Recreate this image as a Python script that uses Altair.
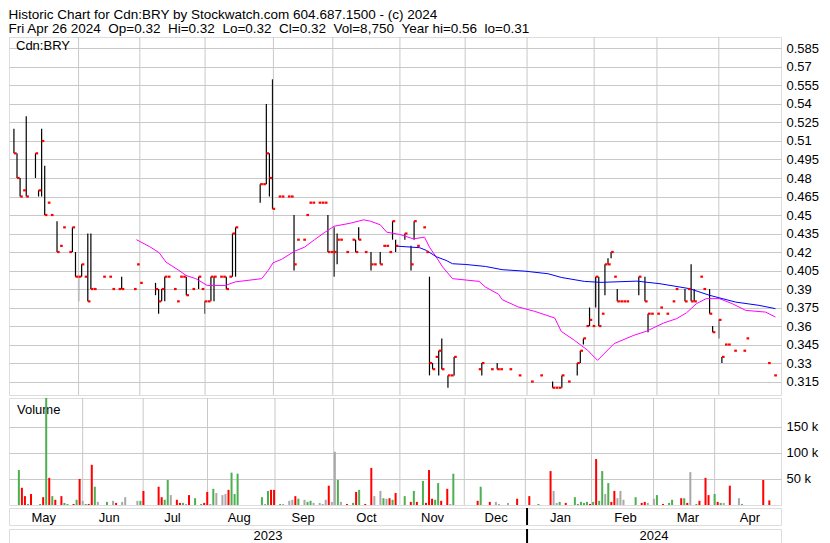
import altair as alt
import numpy as np
import pandas as pd

FONT = "Liberation Sans"
SP = "\u00a0\u00a0"
TITLE_LINES = [
    "Historic Chart for Cdn:BRY by Stockwatch.com 604.687.1500 - (c) 2024",
    "Fri Apr 26 2024" + SP + "Op=0.32" + SP + "Hi=0.32" + SP + "Lo=0.32" + SP + "Cl=0.32"
    + SP + "Vol=8,750" + SP + "Year hi=0.56" + SP + "lo=0.31",
]
SYMBOL = "Cdn:BRY"

# trading-day slot (0 = first session of May 2023) of each session with trades
T = [1, 2, 3, 4, 5, 8, 9, 10, 11, 12, 13, 15, 16, 17, 19, 20, 21, 22, 23, 24,
     25, 26, 27, 30, 32, 33, 35, 36, 40, 41, 42, 47, 48, 49, 50, 51, 53, 54, 55, 56,
     57, 59, 61, 62, 63, 64, 65, 66, 68, 69, 70, 71, 72, 73, 81, 82, 83, 84, 85, 87,
     88, 90, 91, 92, 93, 95, 96, 97, 98, 100, 101, 102, 103, 104, 105, 106, 107, 109, 111, 112,
     113, 115, 117, 118, 120, 121, 122, 123, 124, 125, 128, 130, 131, 132, 134, 135, 136, 137, 138, 139,
     140, 142, 143, 144, 152, 153, 156, 158, 159, 162, 165, 169, 172, 176, 177, 178, 179, 181, 184, 185,
     186, 187, 188, 189, 190, 191, 192, 193, 194, 195, 196, 197, 198, 199, 200, 204, 206, 207, 208, 210,
     211, 213, 215, 216, 219, 220, 221, 222, 224, 225, 227, 228, 230, 231, 232, 233, 235, 238, 239, 246,
     248]
HIGH = [.52, .50, .48, .47, .53, .50, .47, .52, .49, .46, .45, .445, .425, .44, .42, .44, .42, .40, .41, .40,
        .435, .435, .39, .40, .40, .39, .39, .40, .39, .41, .395, .395, .39, .39, .40, .40, .39, .38, .40, .40,
        .40, .39, .40, .39, .38, .38, .40, .40, .40, .40, .40, .40, .435, .44, .475, .475, .54, .50, .56, .465,
        .465, .465, .465, .45, .43, .43, .45, .46, .46, .46, .46, .46, .45, .42, .44, .435, .43, .42, .43, .43,
        .44, .42, .42, .41, .42, .425, .425, .42, .445, .43, .435, .425, .445, .425, .44, .42, .40, .33, .335, .34,
        .35, .32, .32, .335, .325, .33, .325, .33, .325, .325, .32, .315, .32, .315, .31, .31, .32, .315, .33, .34,
        .35, .36, .375, .36, .40, .40, .37, .41, .415, .42, .40, .39, .38, .38, .38, .40, .40, .37, .37, .37,
        .375, .37, .38, .39, .39, .39, .41, .39, .40, .39, .39, .36, .365, .335, .345, .345, .34, .34, .35, .33,
        .32]
LOW = [.50, .48, .465, .47, .465, .48, .465, .465, .45, .46, .45, .42, .425, .44, .42, .42, .40, .38, .40, .40,
       .38, .39, .39, .40, .40, .39, .39, .39, .39, .41, .395, .385, .37, .38, .38, .40, .39, .38, .40, .40,
       .385, .39, .39, .39, .37, .38, .38, .38, .40, .40, .39, .40, .40, .40, .46, .475, .475, .465, .455, .465,
       .465, .465, .465, .405, .43, .43, .45, .46, .46, .46, .46, .46, .42, .42, .40, .41, .43, .42, .43, .42,
       .43, .42, .405, .41, .41, .425, .425, .42, .43, .42, .43, .405, .43, .425, .44, .42, .32, .325, .335, .32,
       .325, .31, .32, .32, .325, .32, .325, .325, .325, .325, .32, .315, .32, .31, .31, .31, .31, .315, .32, .33,
       .345, .36, .36, .36, .375, .36, .37, .385, .41, .415, .40, .38, .38, .38, .38, .385, .38, .355, .37, .37,
       .375, .37, .38, .39, .38, .39, .38, .38, .40, .39, .37, .355, .35, .33, .345, .345, .34, .34, .35, .33,
       .32]
CLOSE = [.50, .48, .465, .47, .465, .50, .47, .51, .45, .46, .45, .42, .425, .44, .42, .44, .40, .40, .41, .40,
         .38, .39, .39, .40, .40, .39, .39, .39, .39, .41, .395, .39, .38, .39, .40, .40, .39, .38, .40, .40,
         .385, .39, .40, .39, .38, .38, .40, .40, .40, .40, .39, .40, .435, .44, .475, .475, .50, .48, .455, .465,
         .465, .465, .465, .41, .43, .43, .45, .46, .46, .46, .46, .46, .42, .42, .42, .43, .43, .42, .43, .42,
         .43, .42, .41, .41, .41, .425, .425, .42, .445, .425, .435, .41, .445, .425, .44, .42, .33, .325, .335, .34,
         .325, .32, .32, .335, .325, .33, .325, .325, .325, .325, .32, .315, .32, .31, .31, .31, .32, .315, .33, .34,
         .35, .36, .365, .36, .40, .36, .37, .41, .41, .42, .40, .38, .38, .38, .38, .40, .38, .37, .37, .37,
         .375, .37, .38, .39, .38, .39, .38, .38, .40, .39, .37, .355, .365, .335, .345, .345, .34, .34, .35, .33,
         .32]
VOLUME_K = [67, 33, 17, 2, 21, 2, 15, 250, 52, 17, 10, 17, 4, 2, 2, 10, 50, 8, 2, 2,
            77, 35, 6, 6, 8, 4, 6, 15, 8, 8, 27, 35, 15, 10, 48, 19, 10, 4, 4, 2,
            19, 13, 2, 4, 25, 2, 31, 23, 19, 21, 29, 62, 21, 60, 15, 2, 27, 29, 29, 2,
            2, 8, 10, 17, 12, 10, 6, 8, 4, 4, 2, 10, 37, 6, 102, 48, 6, 2, 4, 25,
            29, 2, 71, 17, 27, 13, 12, 13, 10, 23, 17, 6, 27, 6, 46, 4, 67, 12, 10, 42,
            8, 31, 2, 60, 8, 35, 6, 6, 2, 4, 12, 17, 2, 65, 27, 4, 6, 4, 15, 2,
            6, 4, 6, 2, 6, 88, 8, 65, 21, 42, 6, 27, 13, 27, 10, 15, 4, 6, 4, 12,
            19, 2, 4, 10, 13, 13, 4, 63, 2, 8, 52, 19, 21, 6, 4, 4, 37, 13, 2, 48,
            8.75]
PREV_CLOSE = 0.49

# moving averages (slot, price)
PINK_T = [40.8, 45, 48.2, 50.4, 54.6, 56.9, 60.1, 63.8, 69.7, 72.9, 81.5, 83.6, 85.2, 87.9, 92.2,
          95.4, 98.6, 101.8, 105, 110.4, 114.6, 116.8, 120, 122.1, 126.4, 130.7, 134.4, 136, 138.2,
          140.3, 143.5, 152.1, 154.2, 158.5, 159.6, 164.9, 170.2, 176.7, 178.8, 183.1, 187.4, 190.6,
          196, 202.4, 206.6, 212, 216.3, 219.5, 222.7, 225.9, 230.2, 234.4, 238.7, 245.2, 248.4]
PINK_P = [.430, .4245, .4194, .4118, .4051, .4010, .3984, .3929, .3929, .3958, .3984, .4051, .4113, .4140,
          .4207, .4239, .4299, .4356, .4409, .4434, .4461, .4450, .4421, .4361, .4342, .4307, .4320, .4239,
          .4159, .4078, .3984, .3962, .3916, .3857, .3814, .3754, .3719, .3665, .3557, .3484, .3403, .3322,
          .3458, .3525, .3559, .3624, .3660, .3707, .3781, .3822, .3822, .3781, .3727, .3713, .3673]
BLUE_T = [125.3, 132.8, 135, 138.2, 141.4, 143.5, 147.8, 154.2, 159.6, 167, 174.5, 178.8, 186.3,
          191.7, 203.4, 210.9, 220.5, 227, 235.5, 243, 248.4]
BLUE_P = [.4248, .4235, .4213, .4162, .4132, .4105, .4099, .4083, .4057, .4045, .4024, .3994, .3962,
          .3954, .3964, .3943, .3903, .3849, .3794, .3768, .3741]

MONTHS = ["May", "Jun", "Jul", "Aug", "Sep", "Oct", "Nov", "Dec", "Jan", "Feb", "Mar", "Apr"]
MONTH_START_T = [-0.6, 22.0, 41.9, 63.1, 85.3, 104.6, 126.4, 147.6, 167.7, 189.5, 209.9, 230.0]
YEARS = ["2023", "2024"]
YEAR_START_T = [-0.6, 167.7]
END_T = 250.2

PRICE_TICKS = [0.315, 0.33, 0.345, 0.36, 0.375, 0.39, 0.405, 0.42, 0.435, 0.45, 0.465, 0.48,
               0.495, 0.51, 0.525, 0.54, 0.555, 0.57, 0.585]
PRICE_DOMAIN = [0.3041, 0.5943]
VOLUME_TICKS = [50000, 100000, 150000]
VOLUME_DOMAIN = [0, 205000]

GREEN, RED, GRAY = "#4caf50", "#ff0000", "#a8a8a8"
GRID = "#c8c8c8"

W, H1, H2, H3, H4 = 772, 358, 107, 17, 14

bars = pd.DataFrame({"t": T, "high": HIGH, "low": LOW, "close": CLOSE,
                     "vol": [v * 1000 for v in VOLUME_K]})
prev = bars["close"].shift(1).fillna(PREV_CLOSE)
bars["dir"] = np.where(bars["close"] > prev + 1e-9, "up",
                       np.where(bars["close"] < prev - 1e-9, "down", "flat"))

pink = pd.DataFrame({"t": PINK_T, "p": PINK_P})
blue = pd.DataFrame({"t": BLUE_T, "p": BLUE_P})
grid_df = pd.DataFrame({"t": MONTH_START_T[1:]})
ends = MONTH_START_T[1:] + [END_T]
months = pd.DataFrame({"name": MONTHS,
                       "mid": [(a + b) / 2 for a, b in zip(MONTH_START_T, ends)]})
yends = YEAR_START_T[1:] + [END_T]
years = pd.DataFrame({"name": YEARS,
                      "mid": [(a + b) / 2 for a, b in zip(YEAR_START_T, yends)]})
sep_df = pd.DataFrame({"t": YEAR_START_T[1:]})

xs = alt.Scale(domain=[MONTH_START_T[0], END_T], nice=False, zero=False)
X = alt.X("t:Q", scale=xs, axis=None)
ys = alt.Scale(domain=PRICE_DOMAIN, nice=False, zero=False)

price_axis = alt.Axis(orient="right", values=PRICE_TICKS, format=".3~f", title=None,
                      grid=True, gridColor=GRID, gridWidth=1, domain=False, ticks=False,
                      labelPadding=5, labelFontSize=13, labelFont=FONT, labelColor="black",
                      labelOverlap=False, labelFlush=False)


def PY(field):
    return alt.Y(field, scale=ys, axis=price_axis, title=None)


vgrid = alt.Chart(grid_df).mark_rule(color=GRID, strokeWidth=1).encode(x=X)
hl = alt.Chart(bars).mark_rule(color="black", strokeWidth=1.2).encode(
    x=X, y=PY("low:Q"), y2="high:Q")
ticks = alt.Chart(bars).transform_calculate(t2="datum.t + 0.87").mark_rule(
    color=RED, strokeWidth=2.2).encode(x=X, x2="t2:Q", y=PY("close:Q"))
pink_line = alt.Chart(pink).mark_line(color="#ff00ff", strokeWidth=1).encode(x=X, y=PY("p:Q"))
blue_line = alt.Chart(blue).mark_line(color="#0000ff", strokeWidth=1).encode(x=X, y=PY("p:Q"))
sym = alt.Chart(pd.DataFrame({"s": [SYMBOL]})).mark_text(
    align="left", baseline="middle", fontSize=13, font=FONT, color="black").encode(
    x=alt.value(7), y=alt.value(9), text="s:N")

price = alt.layer(hl, vgrid, pink_line, blue_line, ticks, sym).properties(width=W, height=H1)

vol_axis = alt.Axis(orient="right", values=VOLUME_TICKS, labelExpr="datum.value / 1000 + ' k'",
                    title=None, grid=True, gridColor=GRID, gridWidth=1, domain=False, ticks=False,
                    labelPadding=5, labelFontSize=13, labelFont=FONT, labelColor="black",
                    labelOverlap=False, labelFlush=False)
vgrid2 = alt.Chart(grid_df).mark_rule(color=GRID, strokeWidth=1).encode(x=X)
vlabel = alt.Chart(pd.DataFrame({"s": ["Volume"]})).mark_text(
    align="left", baseline="middle", fontSize=13, font=FONT, color="black").encode(
    x=alt.value(8), y=alt.value(12), text="s:N")
vbars = alt.Chart(bars).mark_bar(size=2, clip=True).encode(
    x=X,
    y=alt.Y("vol:Q", scale=alt.Scale(domain=VOLUME_DOMAIN, nice=False), axis=vol_axis),
    color=alt.Color("dir:N", scale=alt.Scale(domain=["up", "down", "flat"],
                                            range=[GREEN, RED, GRAY]), legend=None))
volume = alt.layer(vgrid2, vlabel, vbars).properties(width=W, height=H2)

mtext = alt.Chart(months).mark_text(fontSize=13, font=FONT, color="black", baseline="middle").encode(
    x=alt.X("mid:Q", scale=xs, axis=None), y=alt.value(H3 / 2 + 1), text="name:N")
msep = alt.Chart(sep_df).mark_rule(color="black", strokeWidth=2).encode(x=X)
month_row = alt.layer(mtext, msep).properties(width=W, height=H3)

ytext = alt.Chart(years).mark_text(fontSize=13, font=FONT, color="black", baseline="middle").encode(
    x=alt.X("mid:Q", scale=xs, axis=None), y=alt.value(H4 / 2), text="name:N")
ysep = alt.Chart(sep_df).mark_rule(color="black", strokeWidth=2).encode(x=X)
year_row = alt.layer(ytext, ysep).properties(width=W, height=H4)

chart = alt.vconcat(
    alt.vconcat(price, volume, spacing=1),
    month_row, year_row, spacing=0,
).properties(
    padding=0,
    background="white",
    title=alt.TitleParams(text=TITLE_LINES, anchor="start", fontSize=13.5, fontWeight="normal",
                          font=FONT, lineHeight=13.5, offset=1, color="black"),
).configure_view(stroke="black", strokeWidth=2).configure(font=FONT)

chart.save("out.html", embed_options={"renderer": "svg", "actions": False})
